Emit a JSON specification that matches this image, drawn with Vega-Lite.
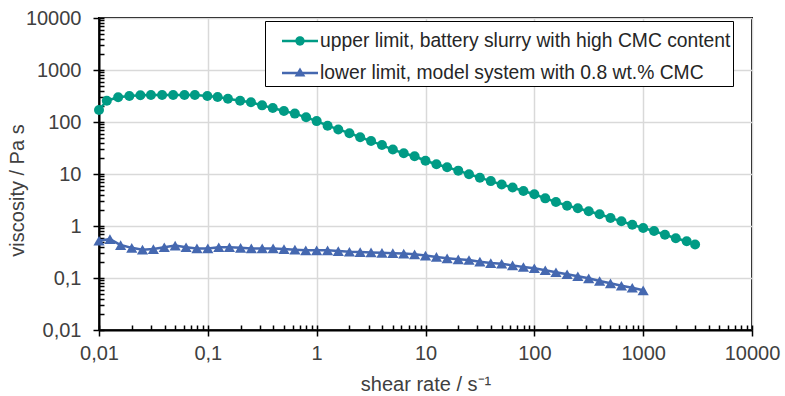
{
  "$schema": "https://vega.github.io/schema/vega-lite/v6.json",
  "width": 653,
  "height": 312,
  "autosize": {"type": "none"},
  "padding": {"left": 99, "top": 18, "right": 33, "bottom": 66},
  "background": "white",
  "config": {
    "font": "Liberation Sans",
    "view": {"stroke": "black", "strokeWidth": 2}
  },
  "data": {
    "values": [
      {"x": 0.01, "y": 170, "s": "upper limit, battery slurry with high CMC content"},
      {"x": 0.0118, "y": 257, "s": "upper limit, battery slurry with high CMC content"},
      {"x": 0.015, "y": 299, "s": "upper limit, battery slurry with high CMC content"},
      {"x": 0.019, "y": 316, "s": "upper limit, battery slurry with high CMC content"},
      {"x": 0.024, "y": 326, "s": "upper limit, battery slurry with high CMC content"},
      {"x": 0.030, "y": 330, "s": "upper limit, battery slurry with high CMC content"},
      {"x": 0.038, "y": 330, "s": "upper limit, battery slurry with high CMC content"},
      {"x": 0.048, "y": 330, "s": "upper limit, battery slurry with high CMC content"},
      {"x": 0.061, "y": 330, "s": "upper limit, battery slurry with high CMC content"},
      {"x": 0.076, "y": 330, "s": "upper limit, battery slurry with high CMC content"},
      {"x": 0.099, "y": 316, "s": "upper limit, battery slurry with high CMC content"},
      {"x": 0.123, "y": 303, "s": "upper limit, battery slurry with high CMC content"},
      {"x": 0.153, "y": 281, "s": "upper limit, battery slurry with high CMC content"},
      {"x": 0.198, "y": 257, "s": "upper limit, battery slurry with high CMC content"},
      {"x": 0.249, "y": 239, "s": "upper limit, battery slurry with high CMC content"},
      {"x": 0.315, "y": 209, "s": "upper limit, battery slurry with high CMC content"},
      {"x": 0.395, "y": 186, "s": "upper limit, battery slurry with high CMC content"},
      {"x": 0.50, "y": 163, "s": "upper limit, battery slurry with high CMC content"},
      {"x": 0.63, "y": 145, "s": "upper limit, battery slurry with high CMC content"},
      {"x": 0.80, "y": 123, "s": "upper limit, battery slurry with high CMC content"},
      {"x": 1.0, "y": 104, "s": "upper limit, battery slurry with high CMC content"},
      {"x": 1.26, "y": 85, "s": "upper limit, battery slurry with high CMC content"},
      {"x": 1.58, "y": 72, "s": "upper limit, battery slurry with high CMC content"},
      {"x": 2.0, "y": 61, "s": "upper limit, battery slurry with high CMC content"},
      {"x": 2.51, "y": 51, "s": "upper limit, battery slurry with high CMC content"},
      {"x": 3.16, "y": 43, "s": "upper limit, battery slurry with high CMC content"},
      {"x": 3.98, "y": 36, "s": "upper limit, battery slurry with high CMC content"},
      {"x": 5.01, "y": 29.5, "s": "upper limit, battery slurry with high CMC content"},
      {"x": 6.31, "y": 25, "s": "upper limit, battery slurry with high CMC content"},
      {"x": 7.94, "y": 21.9, "s": "upper limit, battery slurry with high CMC content"},
      {"x": 10, "y": 18.0, "s": "upper limit, battery slurry with high CMC content"},
      {"x": 12.6, "y": 15.4, "s": "upper limit, battery slurry with high CMC content"},
      {"x": 15.8, "y": 13.5, "s": "upper limit, battery slurry with high CMC content"},
      {"x": 20, "y": 11.6, "s": "upper limit, battery slurry with high CMC content"},
      {"x": 25.1, "y": 9.9, "s": "upper limit, battery slurry with high CMC content"},
      {"x": 31.6, "y": 8.5, "s": "upper limit, battery slurry with high CMC content"},
      {"x": 39.8, "y": 7.3, "s": "upper limit, battery slurry with high CMC content"},
      {"x": 50.1, "y": 6.3, "s": "upper limit, battery slurry with high CMC content"},
      {"x": 63.1, "y": 5.5, "s": "upper limit, battery slurry with high CMC content"},
      {"x": 79.4, "y": 4.71, "s": "upper limit, battery slurry with high CMC content"},
      {"x": 100, "y": 4.07, "s": "upper limit, battery slurry with high CMC content"},
      {"x": 126, "y": 3.4, "s": "upper limit, battery slurry with high CMC content"},
      {"x": 158, "y": 2.9, "s": "upper limit, battery slurry with high CMC content"},
      {"x": 200, "y": 2.46, "s": "upper limit, battery slurry with high CMC content"},
      {"x": 251, "y": 2.19, "s": "upper limit, battery slurry with high CMC content"},
      {"x": 316, "y": 1.92, "s": "upper limit, battery slurry with high CMC content"},
      {"x": 398, "y": 1.68, "s": "upper limit, battery slurry with high CMC content"},
      {"x": 501, "y": 1.43, "s": "upper limit, battery slurry with high CMC content"},
      {"x": 631, "y": 1.23, "s": "upper limit, battery slurry with high CMC content"},
      {"x": 794, "y": 1.06, "s": "upper limit, battery slurry with high CMC content"},
      {"x": 1000, "y": 0.916, "s": "upper limit, battery slurry with high CMC content"},
      {"x": 1259, "y": 0.80, "s": "upper limit, battery slurry with high CMC content"},
      {"x": 1585, "y": 0.68, "s": "upper limit, battery slurry with high CMC content"},
      {"x": 1995, "y": 0.58, "s": "upper limit, battery slurry with high CMC content"},
      {"x": 2512, "y": 0.51, "s": "upper limit, battery slurry with high CMC content"},
      {"x": 3000, "y": 0.44, "s": "upper limit, battery slurry with high CMC content"},
      {"x": 0.01, "y": 0.52, "s": "lower limit, model system with 0.8 wt.% CMC"},
      {"x": 0.0126, "y": 0.56, "s": "lower limit, model system with 0.8 wt.% CMC"},
      {"x": 0.0158, "y": 0.43, "s": "lower limit, model system with 0.8 wt.% CMC"},
      {"x": 0.02, "y": 0.38, "s": "lower limit, model system with 0.8 wt.% CMC"},
      {"x": 0.0251, "y": 0.35, "s": "lower limit, model system with 0.8 wt.% CMC"},
      {"x": 0.0316, "y": 0.36, "s": "lower limit, model system with 0.8 wt.% CMC"},
      {"x": 0.0398, "y": 0.39, "s": "lower limit, model system with 0.8 wt.% CMC"},
      {"x": 0.0501, "y": 0.42, "s": "lower limit, model system with 0.8 wt.% CMC"},
      {"x": 0.0631, "y": 0.39, "s": "lower limit, model system with 0.8 wt.% CMC"},
      {"x": 0.0794, "y": 0.37, "s": "lower limit, model system with 0.8 wt.% CMC"},
      {"x": 0.1, "y": 0.37, "s": "lower limit, model system with 0.8 wt.% CMC"},
      {"x": 0.126, "y": 0.39, "s": "lower limit, model system with 0.8 wt.% CMC"},
      {"x": 0.158, "y": 0.39, "s": "lower limit, model system with 0.8 wt.% CMC"},
      {"x": 0.2, "y": 0.38, "s": "lower limit, model system with 0.8 wt.% CMC"},
      {"x": 0.251, "y": 0.37, "s": "lower limit, model system with 0.8 wt.% CMC"},
      {"x": 0.316, "y": 0.37, "s": "lower limit, model system with 0.8 wt.% CMC"},
      {"x": 0.398, "y": 0.37, "s": "lower limit, model system with 0.8 wt.% CMC"},
      {"x": 0.501, "y": 0.36, "s": "lower limit, model system with 0.8 wt.% CMC"},
      {"x": 0.631, "y": 0.35, "s": "lower limit, model system with 0.8 wt.% CMC"},
      {"x": 0.794, "y": 0.34, "s": "lower limit, model system with 0.8 wt.% CMC"},
      {"x": 1, "y": 0.34, "s": "lower limit, model system with 0.8 wt.% CMC"},
      {"x": 1.26, "y": 0.34, "s": "lower limit, model system with 0.8 wt.% CMC"},
      {"x": 1.58, "y": 0.33, "s": "lower limit, model system with 0.8 wt.% CMC"},
      {"x": 2, "y": 0.32, "s": "lower limit, model system with 0.8 wt.% CMC"},
      {"x": 2.51, "y": 0.315, "s": "lower limit, model system with 0.8 wt.% CMC"},
      {"x": 3.16, "y": 0.31, "s": "lower limit, model system with 0.8 wt.% CMC"},
      {"x": 3.98, "y": 0.305, "s": "lower limit, model system with 0.8 wt.% CMC"},
      {"x": 5.01, "y": 0.30, "s": "lower limit, model system with 0.8 wt.% CMC"},
      {"x": 6.31, "y": 0.295, "s": "lower limit, model system with 0.8 wt.% CMC"},
      {"x": 7.94, "y": 0.285, "s": "lower limit, model system with 0.8 wt.% CMC"},
      {"x": 10, "y": 0.27, "s": "lower limit, model system with 0.8 wt.% CMC"},
      {"x": 12.6, "y": 0.254, "s": "lower limit, model system with 0.8 wt.% CMC"},
      {"x": 15.8, "y": 0.239, "s": "lower limit, model system with 0.8 wt.% CMC"},
      {"x": 20, "y": 0.229, "s": "lower limit, model system with 0.8 wt.% CMC"},
      {"x": 25.1, "y": 0.222, "s": "lower limit, model system with 0.8 wt.% CMC"},
      {"x": 31.6, "y": 0.206, "s": "lower limit, model system with 0.8 wt.% CMC"},
      {"x": 39.8, "y": 0.194, "s": "lower limit, model system with 0.8 wt.% CMC"},
      {"x": 50.1, "y": 0.188, "s": "lower limit, model system with 0.8 wt.% CMC"},
      {"x": 63.1, "y": 0.175, "s": "lower limit, model system with 0.8 wt.% CMC"},
      {"x": 79.4, "y": 0.163, "s": "lower limit, model system with 0.8 wt.% CMC"},
      {"x": 100, "y": 0.154, "s": "lower limit, model system with 0.8 wt.% CMC"},
      {"x": 126, "y": 0.141, "s": "lower limit, model system with 0.8 wt.% CMC"},
      {"x": 158, "y": 0.129, "s": "lower limit, model system with 0.8 wt.% CMC"},
      {"x": 200, "y": 0.118, "s": "lower limit, model system with 0.8 wt.% CMC"},
      {"x": 251, "y": 0.108, "s": "lower limit, model system with 0.8 wt.% CMC"},
      {"x": 316, "y": 0.0987, "s": "lower limit, model system with 0.8 wt.% CMC"},
      {"x": 398, "y": 0.0876, "s": "lower limit, model system with 0.8 wt.% CMC"},
      {"x": 501, "y": 0.079, "s": "lower limit, model system with 0.8 wt.% CMC"},
      {"x": 631, "y": 0.071, "s": "lower limit, model system with 0.8 wt.% CMC"},
      {"x": 794, "y": 0.065, "s": "lower limit, model system with 0.8 wt.% CMC"},
      {"x": 1000, "y": 0.058, "s": "lower limit, model system with 0.8 wt.% CMC"}
    ]
  },
  "layer": [
    {
      "transform": [{"filter": {"field": "s", "equal": "upper limit, battery slurry with high CMC content"}}],
      "mark": {"type": "line", "strokeWidth": 2.5, "color": "#009B85"},
      "encoding": {
        "x": {
          "field": "x", "type": "quantitative",
          "scale": {"type": "log", "domain": [0.01, 10000], "nice": false},
          "axis": {
            "orient": "bottom",
            "values": [0.01, 0.1, 1, 10, 100, 1000, 10000],
            "labelExpr": "replace(toString(datum.value), '.', ',')",
            "grid": true, "gridColor": "#d9d9d9", "gridWidth": 1.5,
            "domainColor": "black", "domainWidth": 2,
            "tickColor": "black", "tickWidth": 1.5, "tickSize": 6,
            "labelFontSize": 20, "labelColor": "#404040", "labelPadding": 7,
            "labelFlush": false, "labelOverlap": false,
            "title": "shear rate / s⁻¹", "titleFontSize": 20, "titleFontWeight": "normal",
            "titleColor": "#404040", "titlePadding": 11
          }
        },
        "y": {
          "field": "y", "type": "quantitative",
          "scale": {"type": "log", "domain": [0.01, 10000], "nice": false},
          "axis": {
            "orient": "left",
            "values": [0.01, 0.1, 1, 10, 100, 1000, 10000],
            "labelExpr": "replace(toString(datum.value), '.', ',')",
            "grid": true, "gridColor": "#d9d9d9", "gridWidth": 1.5,
            "domainColor": "black", "domainWidth": 2,
            "tickColor": "black", "tickWidth": 1.5, "tickSize": 6,
            "labelFontSize": 20, "labelColor": "#404040", "labelPadding": 12,
            "labelFlush": false, "labelOverlap": false,
            "title": "viscosity / Pa s", "titleFontSize": 20, "titleFontWeight": "normal",
            "titleColor": "#404040", "titlePadding": -2, "titleY": 172
          }
        }
      }
    },
    {
      "transform": [{"filter": {"field": "s", "equal": "lower limit, model system with 0.8 wt.% CMC"}}],
      "mark": {"type": "line", "strokeWidth": 2.5, "color": "#4568B0"},
      "encoding": {
        "x": {"field": "x", "type": "quantitative", "axis": null},
        "y": {"field": "y", "type": "quantitative", "axis": null}
      }
    },
    {
      "transform": [{"filter": {"field": "s", "equal": "upper limit, battery slurry with high CMC content"}}],
      "mark": {"type": "point", "filled": true, "opacity": 1, "shape": "circle", "size": 100, "color": "#009B85"},
      "encoding": {
        "x": {"field": "x", "type": "quantitative", "axis": null},
        "y": {"field": "y", "type": "quantitative", "axis": null}
      }
    },
    {
      "transform": [{"filter": {"field": "s", "equal": "lower limit, model system with 0.8 wt.% CMC"}}],
      "mark": {"type": "point", "filled": true, "opacity": 1, "shape": "triangle-up", "size": 125, "color": "#4568B0"},
      "encoding": {
        "x": {"field": "x", "type": "quantitative", "axis": null},
        "y": {"field": "y", "type": "quantitative", "axis": null}
      }
    },
    {
      "mark": {"type": "point", "filled": true, "opacity": 0, "size": 1},
      "encoding": {
        "x": {
          "field": "x", "type": "quantitative",
          "axis": {
            "orient": "bottom",
            "values": [0.01, 0.02, 0.03, 0.04, 0.05, 0.06, 0.07, 0.08, 0.09, 0.1, 0.2, 0.3, 0.4, 0.5, 0.6, 0.7, 0.8, 0.9, 1, 2, 3, 4, 5, 6, 7, 8, 9, 10, 20, 30, 40, 50, 60, 70, 80, 90, 100, 200, 300, 400, 500, 600, 700, 800, 900, 1000, 2000, 3000, 4000, 5000, 6000, 7000, 8000, 9000, 10000],
            "grid": false, "domain": false, "labels": false, "title": null,
            "tickColor": "black", "tickWidth": 1.5, "tickSize": -5
          }
        },
        "y": {
          "field": "y", "type": "quantitative",
          "axis": {
            "orient": "left",
            "values": [0.01, 0.02, 0.03, 0.04, 0.05, 0.06, 0.07, 0.08, 0.09, 0.1, 0.2, 0.3, 0.4, 0.5, 0.6, 0.7, 0.8, 0.9, 1, 2, 3, 4, 5, 6, 7, 8, 9, 10, 20, 30, 40, 50, 60, 70, 80, 90, 100, 200, 300, 400, 500, 600, 700, 800, 900, 1000, 2000, 3000, 4000, 5000, 6000, 7000, 8000, 9000, 10000],
            "grid": false, "domain": false, "labels": false, "title": null,
            "tickColor": "black", "tickWidth": 1.5, "tickSize": -5
          }
        },
        "color": {
          "field": "s", "type": "nominal",
          "scale": {
            "domain": ["upper limit, battery slurry with high CMC content", "lower limit, model system with 0.8 wt.% CMC"],
            "range": ["#009B85", "#4568B0"]
          },
          "legend": {
            "orient": "none", "legendX": 166, "legendY": 3,
            "title": null,
            "padding": 2, "rowPadding": 3,
            "symbolSize": 1296, "symbolOffset": 15, "labelOffset": 2,
            "symbolOpacity": 1, "symbolStrokeWidth": 0,
            "labelFontSize": 19.3, "labelColor": "#262626", "labelLimit": 0,
            "labelBaseline": "middle",
            "labelExpr": "datum.label + '\u2003\u2003'",
            "strokeColor": "black", "fillColor": "white"
          }
        },
        "shape": {
          "field": "s", "type": "nominal",
          "scale": {
            "domain": ["upper limit, battery slurry with high CMC content", "lower limit, model system with 0.8 wt.% CMC"],
            "range": [
              "M-1,-0.07L1,-0.07L1,0.07L-1,0.07Z M0.26,0A0.26,0.26 0 1,1 -0.26,0A0.26,0.26 0 1,1 0.26,0Z",
              "M-1,-0.07L1,-0.07L1,0.07L-1,0.07Z M0,-0.3L0.3,0.2L-0.3,0.2Z"
            ]
          },
          "legend": {
            "orient": "none", "legendX": 166, "legendY": 3,
            "title": null,
            "padding": 2, "rowPadding": 3,
            "symbolSize": 1296, "symbolOffset": 15, "labelOffset": 2,
            "symbolOpacity": 1, "symbolStrokeWidth": 0,
            "labelFontSize": 19.3, "labelColor": "#262626", "labelLimit": 0,
            "labelBaseline": "middle",
            "labelExpr": "datum.label + '\u2003\u2003'",
            "strokeColor": "black", "fillColor": "white"
          }
        }
      }
    }
  ],
  "resolve": {"axis": {"x": "independent", "y": "independent"}}
}
